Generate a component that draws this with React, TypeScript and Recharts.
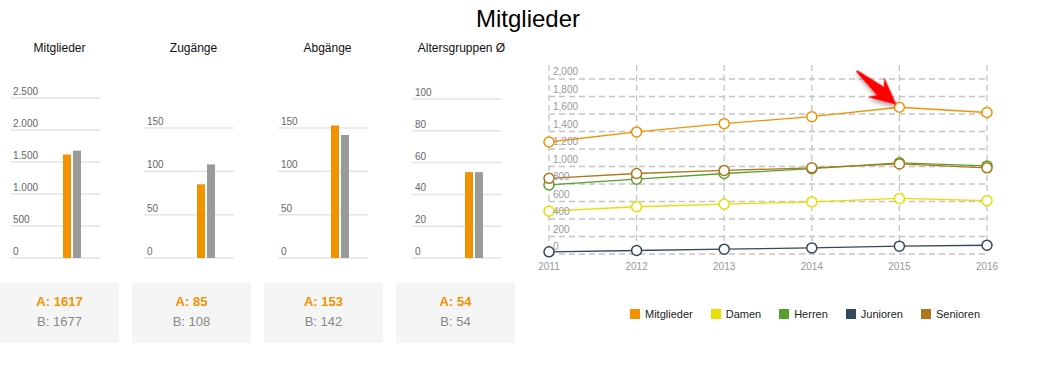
import React from "react";
import {
  Bar,
  BarChart,
  CartesianGrid,
  Line,
  LineChart,
  XAxis,
  YAxis,
} from "recharts";

// small panels
const panelTitles = ["Mitglieder", "Zugänge", "Abgänge", "Altersgruppen Ø"];
const valuesA = [1617, 85, 153, 54];
const valuesB = [1677, 108, 142, 54];
const panelTicks = [
  [0, 500, 1000, 1500, 2000, 2500],
  [0, 50, 100, 150],
  [0, 50, 100, 150],
  [0, 20, 40, 60, 80, 100],
];

// line chart
const years = ["2011", "2012", "2013", "2014", "2015", "2016"];
const mitglieder = [1280, 1395, 1490, 1570, 1677, 1617];
const damen = [490, 540, 570, 595, 635, 610];
const herren = [790, 855, 920, 975, 1042, 1007];
const junioren = [25, 40, 55, 70, 90, 100];
const senioren = [865, 920, 955, 985, 1030, 985];
const lineTicks = [0, 200, 400, 600, 800, 1000, 1200, 1400, 1600, 1800, 2000];
const highlightYear = "2015";

const ORANGE = "#f39200";
const GRAY = "#9a9a9a";
const FONT = "'Liberation Sans', Arial, sans-serif";

const series = [
  { name: "Mitglieder", values: mitglieder, color: ORANGE },
  { name: "Damen", values: damen, color: "#e6df00" },
  { name: "Herren", values: herren, color: "#56a02b" },
  { name: "Junioren", values: junioren, color: "#34495e" },
  { name: "Senioren", values: senioren, color: "#b0761e" },
];

const lineData = years.map((year, i) => {
  const row: Record<string, string | number> = { year };
  series.forEach((s) => (row[s.name] = s.values[i]));
  return row;
});

// pixel layout of the small panels
const PANEL_STEP = 134;
const PANEL_W = 119;
const PLOT_BOTTOM = 258;
const topTickY = [98, 128, 128, 99];

function SmallPanel({ index }: { index: number }) {
  const ticks = panelTicks[index];
  const lastTick = ticks[ticks.length - 1];
  const maxVal = Math.max(lastTick, valuesA[index], valuesB[index]);
  const plotTop =
    PLOT_BOTTOM - ((PLOT_BOTTOM - topTickY[index]) * maxVal) / lastTick;
  const data = [{ name: panelTitles[index], a: valuesA[index], b: valuesB[index] }];

  return (
    <div style={{ position: "absolute", left: index * PANEL_STEP, top: 0 }}>
      <div
        style={{
          position: "absolute",
          left: 0,
          top: 41,
          width: PANEL_W,
          textAlign: "center",
          fontSize: 12,
          lineHeight: "14px",
          color: "#111",
          whiteSpace: "nowrap",
        }}
      >
        {panelTitles[index]}
      </div>
      <BarChart
        width={PANEL_W}
        height={PLOT_BOTTOM + 2}
        data={data}
        margin={{ top: plotTop, right: 19, bottom: 2, left: 9 }}
        barGap={2}
      >
        <CartesianGrid
          vertical={false}
          stroke="#e4e4e4"
          strokeWidth={1.5}
          syncWithTicks
        />
        <XAxis dataKey="name" hide padding={{ left: 34, right: 0 }} />
        <YAxis
          width={1}
          domain={[0, maxVal]}
          ticks={ticks}
          interval={0}
          axisLine={false}
          tickLine={false}
          tickSize={0}
          tickMargin={0}
          tick={({ x, y, payload }: any) => (
            <text
              x={x + 3}
              y={y - 3}
              fontSize={10}
              fill="#666"
              fontFamily={FONT}
              textAnchor="start"
            >
              {Number(payload.value).toLocaleString("de-DE")}
            </text>
          )}
        />
        <Bar dataKey="a" fill={ORANGE} barSize={8} isAnimationActive={false} />
        <Bar dataKey="b" fill={GRAY} barSize={8} isAnimationActive={false} />
      </BarChart>
    </div>
  );
}

const boxLefts = [0, 132, 264, 396];

function InfoBox({ index }: { index: number }) {
  return (
    <div
      style={{
        position: "absolute",
        left: boxLefts[index],
        top: 283,
        width: 119,
        height: 60,
        background: "#f5f5f5",
        textAlign: "center",
        fontSize: 13,
        lineHeight: "20px",
        paddingTop: 9,
        boxSizing: "border-box",
      }}
    >
      <div style={{ color: ORANGE, fontWeight: "bold" }}>A: {valuesA[index]}</div>
      <div style={{ color: "#888" }}>B: {valuesB[index]}</div>
    </div>
  );
}

function Arrow({ cx, cy }: { cx: number; cy: number }) {
  return (
    <g transform={`translate(${cx},${cy}) rotate(40.4)`} filter="url(#arrowShadow)">
      <polygon
        points="-4,0 -31,-13 -25,-5.5 -56,-1 -56,1 -25,5.5 -31,13"
        fill="#ff0000"
      />
    </g>
  );
}

function LineDot(props: any) {
  const { cx, cy, stroke, index, payload } = props;
  return (
    <g key={`dot-${index}`}>
      <circle cx={cx} cy={cy} r={5} fill="#fff" stroke={stroke} strokeWidth={1.5} />
      {payload && payload.year === highlightYear && <Arrow cx={cx} cy={cy} />}
    </g>
  );
}

function PlainDot(props: any) {
  const { cx, cy, stroke, index } = props;
  return (
    <circle
      key={`dot-${index}`}
      cx={cx}
      cy={cy}
      r={5}
      fill="#fff"
      stroke={stroke}
      strokeWidth={1.5}
    />
  );
}

export default function App() {
  return (
    <div
      style={{
        position: "absolute",
        left: 0,
        top: 0,
        width: 1064,
        height: 381,
        background: "#fff",
        fontFamily: FONT,
        overflow: "hidden",
      }}
    >
      <div
        style={{
          position: "absolute",
          left: 0,
          top: 5,
          width: 1056,
          textAlign: "center",
          fontSize: 24,
          lineHeight: "28px",
          color: "#000",
        }}
      >
        Mitglieder
      </div>

      {panelTitles.map((_, i) => (
        <SmallPanel key={i} index={i} />
      ))}
      {panelTitles.map((_, i) => (
        <InfoBox key={i} index={i} />
      ))}

      <div style={{ position: "absolute", left: 530, top: 50 }}>
        <LineChart
          width={500}
          height={230}
          data={lineData}
          margin={{ top: 15, right: 43, bottom: 6, left: 18 }}
        >
          <defs>
            <filter id="arrowShadow" x="-50%" y="-50%" width="200%" height="200%">
              <feDropShadow dx="2" dy="2" stdDeviation="2" floodColor="#000" floodOpacity="0.35" />
            </filter>
          </defs>
          <CartesianGrid
            stroke="#c4c4c4"
            strokeDasharray="6 4"
            strokeWidth={1.3}
            syncWithTicks
          />
          <XAxis
            dataKey="year"
            height={20}
            axisLine={false}
            tickLine={false}
            tickSize={0}
            tickMargin={0}
            interval={0}
            tick={({ x, y, payload }: any) => (
              <text
                x={x}
                y={y + 16}
                fontSize={10}
                fill="#999"
                fontFamily={FONT}
                textAnchor="middle"
              >
                {payload.value}
              </text>
            )}
          />
          <YAxis
            width={1}
            domain={[0, 2160]}
            ticks={lineTicks}
            interval={0}
            axisLine={false}
            tickLine={false}
            tickSize={0}
            tickMargin={0}
            tick={({ x, y, payload }: any) => (
              <text
                x={x + 4}
                y={y - 4}
                fontSize={10}
                fill="#999"
                fontFamily={FONT}
                textAnchor="start"
              >
                {Number(payload.value).toLocaleString("en-US")}
              </text>
            )}
          />
          {series.map((s) => (
            <Line
              key={s.name}
              type="linear"
              dataKey={s.name}
              stroke={s.color}
              strokeWidth={1.3}
              dot={s.name === "Mitglieder" ? LineDot : PlainDot}
              activeDot={false}
              isAnimationActive={false}
            />
          ))}
        </LineChart>
      </div>

      <div
        style={{
          position: "absolute",
          left: 630,
          top: 306,
          height: 16,
          display: "flex",
          alignItems: "center",
          fontSize: 11,
          color: "#222",
        }}
      >
        {series.map((s) => (
          <div key={s.name} style={{ display: "flex", alignItems: "center", marginRight: 18 }}>
            <span
              style={{ width: 10, height: 10, background: s.color, marginRight: 5, display: "inline-block" }}
            />
            <span>{s.name}</span>
          </div>
        ))}
      </div>
    </div>
  );
}
